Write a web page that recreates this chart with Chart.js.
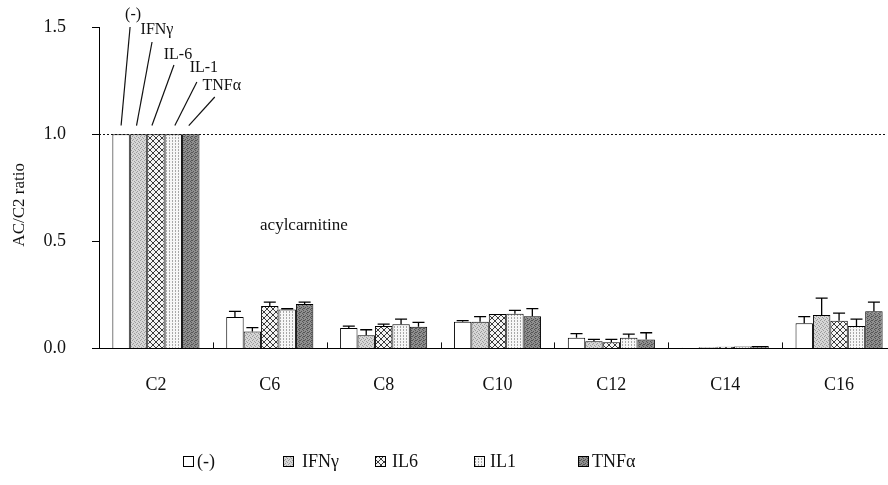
<!DOCTYPE html>
<html>
<head>
<meta charset="utf-8">
<script src="https://cdn.jsdelivr.net/npm/chart.js@4.4.1/dist/chart.umd.min.js"></script>
<style>
  html, body { margin: 0; padding: 0; background: #fff; overflow: hidden; }
  #wrap { width: 900px; height: 485px; }
</style>
</head>
<body>
<div id="wrap"><canvas id="chart" width="900" height="485"></canvas></div>
<script>
// Acylcarnitine / C2 ratios per cytokine treatment
const categories = ['C2', 'C6', 'C8', 'C10', 'C12', 'C14', 'C16'];
const seriesNames = ['(-)', 'IFNγ', 'IL6', 'IL1', 'TNFα'];
const calloutNames = ['(-)', 'IFNγ', 'IL-6', 'IL-1', 'TNFα'];

const ratioNone = [1.0, 0.146, 0.095, 0.124, 0.050, 0.003, 0.117];
const ratioIFN  = [1.0, 0.079, 0.061, 0.124, 0.033, 0.005, 0.156];
const ratioIL6  = [1.0, 0.198, 0.104, 0.160, 0.029, 0.008, 0.129];
const ratioIL1  = [1.0, 0.181, 0.113, 0.162, 0.050, 0.009, 0.104];
const ratioTNF  = [1.0, 0.207, 0.101, 0.150, 0.041, 0.011, 0.173];

// upper error (SD)
const errNone = [0, 0.027, 0.009, 0.006, 0.019, 0, 0.031];
const errIFN  = [0, 0.018, 0.026, 0.024, 0.009, 0, 0.079];
const errIL6  = [0, 0.018, 0.009, 0.000, 0.013, 0, 0.036];
const errIL1  = [0, 0.004, 0.024, 0.015, 0.017, 0, 0.033];
const errTNF  = [0, 0.009, 0.020, 0.036, 0.032, 0, 0.043];

const yTicks = [0, 0.5, 1.0, 1.5];
const referenceLevel = 1.0;
const noteText = 'acylcarnitine';
const yTitle = 'AC/C2 ratio';

const SERIF = '"Liberation Serif", "DejaVu Serif", serif';

// ---- fill patterns ----
function tile(size, bg, paint) {
  const c = document.createElement('canvas');
  c.width = size; c.height = size;
  const g = c.getContext('2d');
  g.fillStyle = bg;
  g.fillRect(0, 0, size, size);
  paint(g, size);
  return g.createPattern(c, 'repeat');
}
function dots(g, color, pts) {
  g.fillStyle = color;
  pts.forEach(p => g.fillRect(p[0], p[1], 1, 1));
}
const fillNone = '#ffffff';
const fillIFN = tile(4, '#d6d6d6', g => dots(g, '#9c9c9c', [[0,0],[2,1],[1,3],[3,2]]));
const fillIL6 = tile(6, '#f4f4f4', (g, s) => {
  g.strokeStyle = '#3c3c3c'; g.lineWidth = 1;
  g.beginPath();
  g.moveTo(-1, -1); g.lineTo(s + 1, s + 1);
  g.moveTo(-1, s + 1); g.lineTo(s + 1, -1);
  g.stroke();
});
const fillIL1 = tile(3, '#f6f6f6', g => dots(g, '#a8a8a8', [[1,0],[1,2]]));
const fillTNF = tile(4, '#8e8e8e', g => dots(g, '#555555', [[0,0],[2,1],[1,3],[3,2],[3,0]]));

const fills = [fillNone, fillIFN, fillIL6, fillIL1, fillTNF];
const values = [ratioNone, ratioIFN, ratioIL6, ratioIL1, ratioTNF];
const errors = [errNone, errIFN, errIL6, errIL1, errTNF];

const datasets = seriesNames.map((name, i) => ({
  label: name,
  data: values[i],
  errUp: errors[i],
  backgroundColor: fills[i],
  borderColor: '#000',
  borderWidth: 1,
  borderSkipped: 'bottom',
  categoryPercentage: 0.765,
  barPercentage: 1.0
}));

// error bars with caps, upward only
const errorBars = {
  id: 'errorBars',
  afterDatasetsDraw(chart) {
    const { ctx, scales: { y } } = chart;
    ctx.save();
    ctx.strokeStyle = '#000';
    ctx.lineWidth = 1.3;
    chart.data.datasets.forEach((ds, di) => {
      const meta = chart.getDatasetMeta(di);
      meta.data.forEach((bar, i) => {
        const e = ds.errUp[i];
        if (!e) return;
        const yTop = y.getPixelForValue(ds.data[i] + e);
        const yBar = y.getPixelForValue(ds.data[i]);
        ctx.beginPath();
        ctx.moveTo(bar.x, yBar);
        ctx.lineTo(bar.x, yTop);
        ctx.moveTo(bar.x - 6, yTop);
        ctx.lineTo(bar.x + 6, yTop);
        ctx.stroke();
      });
    });
    ctx.restore();
  }
};

// axis decorations: dotted reference line, inward category ticks, texts
const decorations = {
  id: 'decorations',
  afterDraw(chart) {
    const { ctx, chartArea, scales: { x, y } } = chart;
    ctx.save();
    // dotted line at the reference level
    const yr = Math.round(y.getPixelForValue(referenceLevel)) + 0.5;
    ctx.strokeStyle = '#111';
    ctx.lineWidth = 1;
    ctx.setLineDash([2, 2]);
    ctx.beginPath();
    ctx.moveTo(chartArea.left, yr);
    ctx.lineTo(887, yr);
    ctx.stroke();
    ctx.setLineDash([]);
    // small ticks between categories, pointing up from the axis
    const y0 = y.getPixelForValue(0);
    ctx.lineWidth = 1;
    for (let i = 0; i < categories.length - 1; i++) {
      const xb = Math.round(x.getPixelForValue(i + 0.5)) + 0.5;
      ctx.beginPath();
      ctx.moveTo(xb, y0);
      ctx.lineTo(xb, y0 - 6);
      ctx.stroke();
    }
    // note text
    ctx.fillStyle = '#111';
    ctx.font = '17px ' + SERIF;
    ctx.textAlign = 'center';
    ctx.textBaseline = 'middle';
    ctx.fillText(noteText, x.getPixelForValue(1.3), y.getPixelForValue(0.575));
    // y axis title
    ctx.save();
    ctx.translate(20, y.getPixelForValue(0.67));
    ctx.rotate(-Math.PI / 2);
    ctx.font = '17px ' + SERIF;
    ctx.fillText(yTitle, 0, 0);
    ctx.restore();
    ctx.restore();
  }
};

// series name callouts over the first group
const callouts = {
  id: 'callouts',
  afterDraw(chart) {
    const { ctx, scales: { y } } = chart;
    // [leader bottom dx, leader top dx, leader top y, text dx, text y]
    const layout = [
      [0, 9, 27, 12, 15],
      [-2, 13.5, 42, 18.5, 30],
      [-4, 18, 65, 22, 55],
      [1.5, 23.5, 82, 30.5, 68],
      [-2, 24, 97, 31, 86]
    ];
    const yBottom = y.getPixelForValue(1.04);
    ctx.save();
    ctx.strokeStyle = '#111';
    ctx.lineWidth = 1.2;
    ctx.fillStyle = '#111';
    ctx.font = '16px ' + SERIF;
    ctx.textAlign = 'center';
    ctx.textBaseline = 'middle';
    chart.data.datasets.forEach((ds, di) => {
      const bar = chart.getDatasetMeta(di).data[0];
      const L = layout[di];
      ctx.beginPath();
      ctx.moveTo(bar.x + L[0], yBottom);
      ctx.lineTo(bar.x + L[1], L[2]);
      ctx.stroke();
      ctx.fillText(calloutNames[di], bar.x + L[3], L[4]);
    });
    ctx.restore();
  }
};

// legend row under the axis
const legendRow = {
  id: 'legendRow',
  afterDraw(chart) {
    const { ctx } = chart;
    const boxX = [183, 283, 375, 474, 578];
    const textX = [197, 302, 392, 490, 592];
    const cy = 462;
    ctx.save();
    ctx.font = '18px ' + SERIF;
    ctx.textBaseline = 'middle';
    ctx.textAlign = 'left';
    chart.data.datasets.forEach((ds, i) => {
      ctx.fillStyle = ds.backgroundColor;
      ctx.fillRect(boxX[i], cy - 6, 11, 11);
      ctx.strokeStyle = '#000';
      ctx.lineWidth = 1;
      ctx.strokeRect(boxX[i] + 0.5, cy - 5.5, 10, 10);
      ctx.fillStyle = '#111';
      ctx.fillText(ds.label, textX[i], cy);
    });
    ctx.restore();
  }
};

new Chart(document.getElementById('chart'), {
  type: 'bar',
  data: { labels: categories, datasets },
  options: {
    responsive: false,
    animation: false,
    layout: { padding: { top: 27, right: 4, bottom: 63, left: 0 } },
    plugins: {
      legend: { display: false },
      tooltip: { enabled: false }
    },
    scales: {
      x: {
        offset: true,
        grid: { display: false, drawTicks: false },
        border: { display: true, color: '#000', width: 1 },
        ticks: {
          color: '#111',
          font: { family: SERIF, size: 18 },
          padding: 26
        }
      },
      y: {
        min: 0,
        max: 1.5,
        afterBuildTicks(scale) { scale.ticks = yTicks.map(v => ({ value: v })); },
        afterFit(scale) {
          scale.width = 99;
          scale.paddingTop = 0;
          scale.paddingBottom = 0;
        },
        grid: { drawOnChartArea: false, drawTicks: true, tickLength: 7, color: '#000' },
        border: { display: true, color: '#000', width: 1 },
        ticks: {
          color: '#111',
          font: { family: SERIF, size: 18 },
          padding: 26,
          callback: v => Number(v).toFixed(1)
        }
      }
    }
  },
  plugins: [errorBars, decorations, callouts, legendRow]
});
</script>
</body>
</html>
